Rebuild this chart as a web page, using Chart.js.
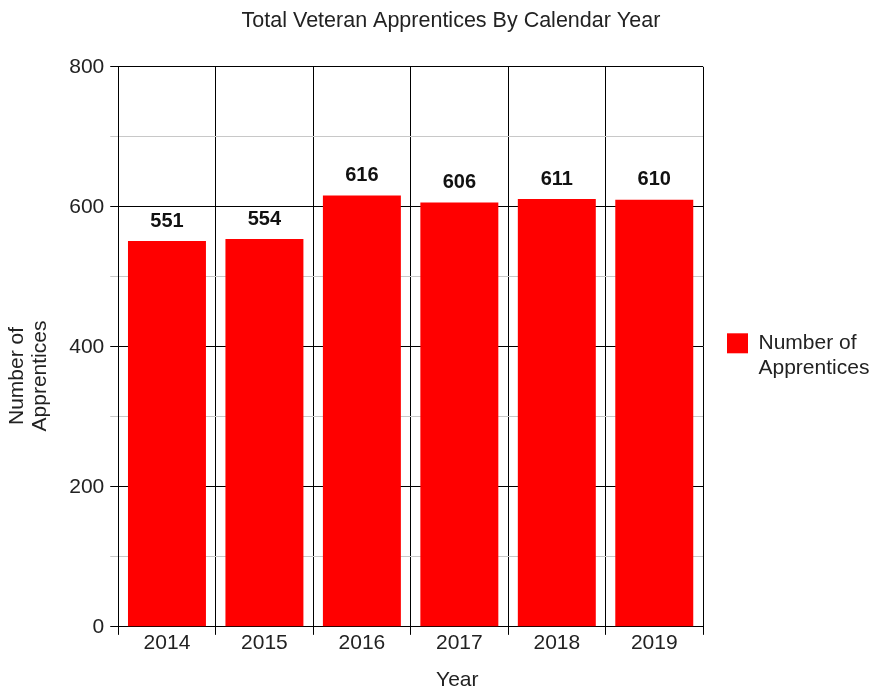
<!DOCTYPE html>
<html>
<head>
<meta charset="utf-8">
<script src="https://cdn.jsdelivr.net/npm/chart.js@4.4.1/dist/chart.umd.min.js"></script>
<style>
  body { margin: 0; background: #fff; }
  #wrap { width: 872px; height: 690px; }
</style>
</head>
<body>
<div id="wrap"><canvas id="apprenticeChart"></canvas></div>
<script>
// data
const years = ["2014", "2015", "2016", "2017", "2018", "2019"];
const apprentices = [551, 554, 616, 606, 611, 610];
const yLabelValues = [0, 200, 400, 600, 800];

Chart.defaults.font.family = '"Liberation Sans", Arial, sans-serif';
Chart.defaults.color = "#222";

// draws the value above each bar
const valueLabels = {
  id: "valueLabels",
  afterDatasetsDraw(chart) {
    const ctx = chart.ctx;
    const meta = chart.getDatasetMeta(0);
    ctx.save();
    ctx.font = 'bold 20px "Liberation Sans", Arial, sans-serif';
    ctx.fillStyle = "#111";
    ctx.textAlign = "center";
    ctx.textBaseline = "bottom";
    meta.data.forEach((bar, i) => {
      ctx.fillText(apprentices[i], bar.x, bar.y - 10);
    });
    ctx.restore();
  },
};

const isMajor = (ctx) => ctx.tick && ctx.tick.value % 200 === 0;

const config = {
  type: "bar",
  data: {
    labels: years,
    datasets: [
      {
        label: "Number of Apprentices",
        data: apprentices,
        backgroundColor: "#ff0000",
        barPercentage: 0.8,
        categoryPercentage: 1.0,
      },
    ],
  },
  options: {
    responsive: true,
    maintainAspectRatio: false,
    animation: false,
    layout: { padding: { left: 6, right: 0, top: 0, bottom: 0 } },
    plugins: {
      title: {
        display: true,
        text: "    Total Veteran Apprentices By Calendar Year",
        font: { size: 21.5, weight: "normal" },
        color: "#222",
        padding: { top: 8, bottom: 33 },
      },
      legend: {
        position: "right",
        maxWidth: 169,
        title: {
          display: true,
          text: "",
          font: { size: 14, lineHeight: 1 },
          padding: 6,
        },
        labels: {
          boxWidth: 21,
          boxHeight: 20,
          padding: 24,
          font: { size: 21 },
          color: "#222",
          generateLabels: () => [
            {
              text: ["Number of", "Apprentices"],
              fillStyle: "#ff0000",
              strokeStyle: "#ff0000",
              lineWidth: 0,
              datasetIndex: 0,
            },
          ],
        },
      },
      tooltip: { enabled: false },
    },
    scales: {
      x: {
        grid: {
          offset: true,
          color: "#000",
          tickColor: "#000",
          tickLength: 8,
        },
        border: { color: "#000" },
        ticks: { font: { size: 21 }, color: "#222", padding: -4 },
        title: {
          display: true,
          text: "                Year",
          font: { size: 21, lineHeight: 0.95 },
          color: "#222",
          padding: { top: 18, bottom: 0 },
        },
      },
      y: {
        min: 0,
        max: 800,
        ticks: {
          stepSize: 100,
          font: { size: 21 },
          color: "#222",
          padding: 6,
          callback: (v) => (yLabelValues.includes(v) ? v : ""),
        },
        grid: {
          color: (ctx) => (isMajor(ctx) ? "#000" : "#c8c8c8"),
          tickColor: (ctx) => (isMajor(ctx) ? "#000" : "#c8c8c8"),
          tickLength: 8,
        },
        border: { color: "#000" },
        title: {
          display: true,
          text: ["Number of          ", "Apprentices          "],
          font: { size: 21, lineHeight: 1.1 },
          color: "#222",
          padding: { top: 0, bottom: 11 },
        },
      },
    },
  },
  plugins: [valueLabels],
};

new Chart(document.getElementById("apprenticeChart"), config);
</script>
</body>
</html>
